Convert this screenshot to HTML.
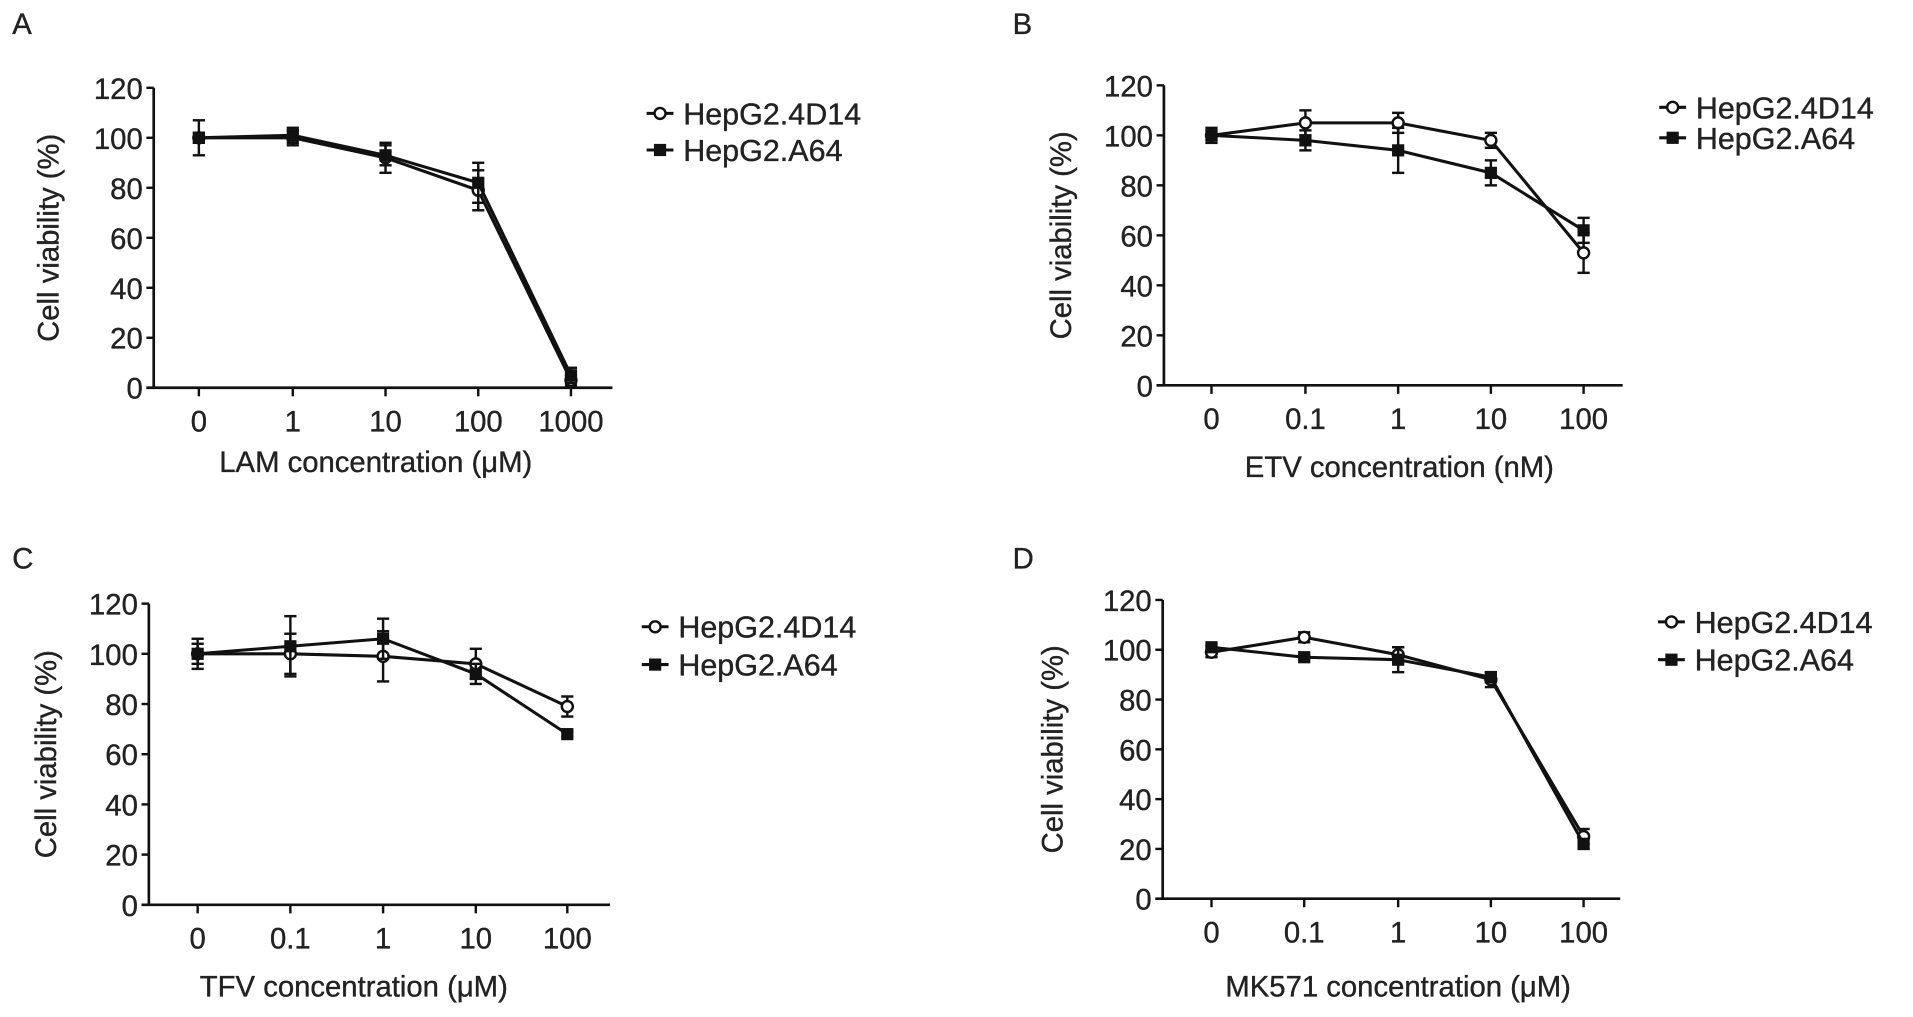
<!DOCTYPE html>
<html><head><meta charset="utf-8">
<style>
html,body{margin:0;padding:0;background:#fff;}
svg{display:block;}
text{font-family:"Liberation Sans",Arial,sans-serif;fill:#222;stroke:#222;stroke-width:0.3;}
</style></head>
<body>
<svg id="fig" width="1913" height="1017" viewBox="0 0 1568 834" preserveAspectRatio="none" xmlns="http://www.w3.org/2000/svg"></svg>
<script>
// Shared data
const yTicks = [0,20,40,60,80,100,120];
const seriesNames = ["HepG2.4D14","HepG2.A64"];

// Panel A
const catsA = ["0","1","10","100","1000"];
const a4D14 = [100,100,92,79,3];
const aA64 = [100,101,93,82,5];
const a4D14Err = [7,3,6,8,2];
const aA64Err = [2,3,4,8,3];
// Panel B
const catsB = ["0","0.1","1","10","100"];
const b4D14 = [100,105,105,98,53];
const bA64 = [100,98,94,85,62];
const b4D14Err = [3,5,4,3,8];
const bA64Err = [2,4,9,5,5];
// Panel C
const catsC = ["0","0.1","1","10","100"];
const c4D14 = [100,100,99,96,79];
const cA64 = [100,103,106,92,68];
const c4D14Err = [6,8,10,6,4];
const cA64Err = [4,12,8,4,1];
// Panel D
const catsD = ["0","0.1","1","10","100"];
const d4D14 = [99,105,98,88,25];
const dA64 = [101,97,96,89,22];
const d4D14Err = [2,2,3,3,3];
const dA64Err = [1,1,5,2,2];

const NS="http://www.w3.org/2000/svg";
const svg=document.getElementById('fig');
function mk(tag,attrs,parent){const e=document.createElementNS(NS,tag);for(const k in attrs)e.setAttribute(k,attrs[k]);(parent||svg).appendChild(e);return e;}

const FS=24;
const panels=[
 {id:'a',letter:'A',lx:10,ly:28,ax:126,y0:318,y120:72,xEnd:502,ticks:[163,240,316,392,468],cats:catsA,s1:a4D14,e1:a4D14Err,s2:aA64,e2:aA64Err,title:'LAM concentration (\u03bcM)',tx:308,ty:387,ylx:48,legX:540,legY:[93,123]},
 {id:'b',letter:'B',lx:830,ly:28,ax:954,y0:316,y120:70,xEnd:1330,ticks:[993,1070,1146,1222,1298],cats:catsB,s1:b4D14,e1:b4D14Err,s2:bA64,e2:bA64Err,title:'ETV concentration (nM)',tx:1147,ty:391,ylx:878,legX:1370,legY:[88,113]},
 {id:'c',letter:'C',lx:10,ly:466,ax:122,y0:742,y120:495,xEnd:500,ticks:[162,238,314,390,465],cats:catsC,s1:c4D14,e1:c4D14Err,s2:cA64,e2:cA64Err,title:'TFV concentration (\u03bcM)',tx:290,ty:817,ylx:46,legX:536,legY:[514,545]},
 {id:'d',letter:'D',lx:830,ly:466,ax:953,y0:737,y120:492,xEnd:1328,ticks:[993,1069,1146,1222,1298],cats:catsD,s1:d4D14,e1:d4D14Err,s2:dA64,e2:dA64Err,title:'MK571 concentration (\u03bcM)',tx:1146,ty:817,ylx:871,legX:1369,legY:[510,541]}
];

panels.forEach(p=>{
  const g=mk('g',{});
  
  
  const yS=v=>p.y0+(p.y120-p.y0)*v/120;
  const xS=i=>p.ticks[i];
  const L=mk('text',{x:p.lx,y:p.ly,'font-size':FS},g);L.textContent=p.letter;
  
  
  const ya=mk('line',{x1:p.ax,y1:p.y120,x2:p.ax,y2:p.y0,stroke:'#111','stroke-width':2.2},g);
  
  
  const xa=mk('line',{x1:p.ax-6,y1:p.y0,x2:p.xEnd,y2:p.y0,stroke:'#111','stroke-width':2.2},g);
  
  
  yTicks.forEach(v=>{
    mk('line',{x1:p.ax-6,y1:yS(v),x2:p.ax,y2:yS(v),stroke:'#111','stroke-width':2},g);
    const t=mk('text',{x:p.ax-9,y:yS(v)+9,'font-size':FS,'text-anchor':'end'},g);t.textContent=v;
    
    
  });
  p.cats.forEach((c,i)=>{
    mk('line',{x1:xS(i),y1:p.y0,x2:xS(i),y2:p.y0+7,stroke:'#111','stroke-width':2},g);
    const t=mk('text',{x:xS(i),y:p.y0+36,'font-size':FS,'text-anchor':'middle'},g);t.textContent=c;
    
    
  });
  const yl=mk('text',{x:p.ylx,y:(p.y0+p.y120)/2,'font-size':FS,'text-anchor':'middle',transform:`rotate(-90 ${p.ylx} ${(p.y0+p.y120)/2})`},g);
  yl.textContent='Cell viability (%)';
  
  
  const xt=mk('text',{x:p.tx,y:p.ty,'font-size':FS,'text-anchor':'middle'},g);xt.textContent=p.title;
  
  
  [[p.s1,p.e1,'circle'],[p.s2,p.e2,'square']].forEach((s,si)=>{
    const sg=mk('g',{},g);
    
    
    const pts=s[0].map((v,i)=>xS(i)+','+yS(v)).join(' ');
    mk('polyline',{points:pts,fill:'none',stroke:'#111','stroke-width':2.5},sg);
    s[0].forEach((v,i)=>{
      const x=xS(i),e=s[1][i];
      mk('line',{x1:x,y1:yS(v-e),x2:x,y2:yS(v+e),stroke:'#111','stroke-width':2},sg);
      mk('line',{x1:x-5,y1:yS(v+e),x2:x+5,y2:yS(v+e),stroke:'#111','stroke-width':2},sg);
      mk('line',{x1:x-5,y1:yS(v-e),x2:x+5,y2:yS(v-e),stroke:'#111','stroke-width':2},sg);
      let m;
      if(s[2]==='circle') m=mk('circle',{cx:x,cy:yS(v),r:4.5,fill:'#fff',stroke:'#111','stroke-width':2},sg);
      else m=mk('rect',{x:x-5,y:yS(v)-5,width:10,height:10,fill:'#111'},sg);
      
      
    });
  });
  seriesNames.forEach((n,i)=>{
    const ly=p.legY[i];
    const lg=mk('g',{},g);
    
    
    mk('line',{x1:p.legX-10,y1:ly,x2:p.legX+12,y2:ly,stroke:'#111','stroke-width':2.5},lg);
    if(i===0) mk('circle',{cx:p.legX+1,cy:ly,r:4.5,fill:'#fff',stroke:'#111','stroke-width':2},lg);
    else mk('rect',{x:p.legX-4,y:ly-5,width:10,height:10,fill:'#111'},lg);
    const t=mk('text',{x:p.legX+20,y:ly+9,'font-size':FS+1},lg);t.textContent=n;
  });
});
</script>
</body></html>
